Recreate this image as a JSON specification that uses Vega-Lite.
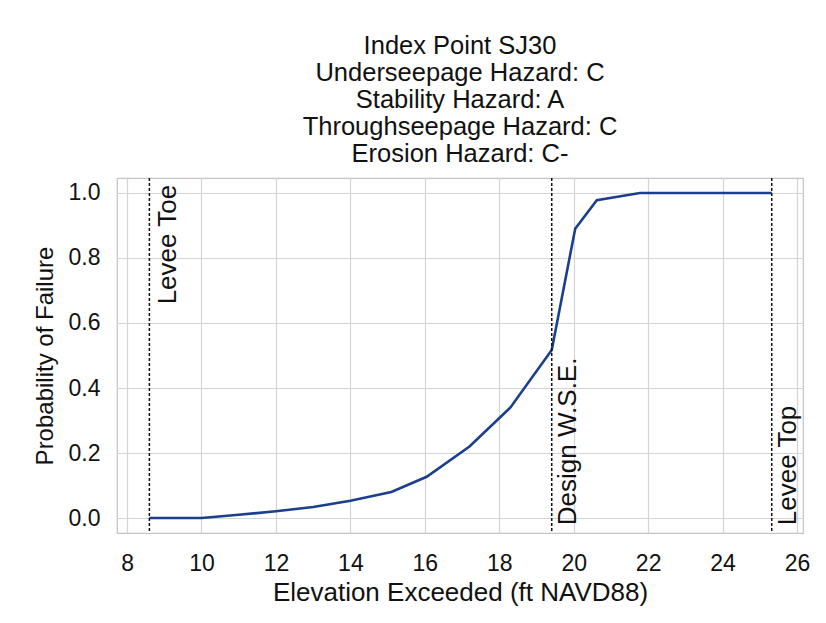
{
  "$schema": "https://vega.github.io/schema/vega-lite/v6.json",
  "width": 686,
  "height": 355,
  "autosize": {"type": "none"},
  "padding": {"left": 117, "top": 178, "right": 23, "bottom": 90},
  "background": "white",
  "title": {
    "text": ["Index Point SJ30", "Underseepage Hazard: C", "Stability Hazard: A", "Throughseepage Hazard: C", "Erosion Hazard: C-"],
    "fontSize": 25.5,
    "fontWeight": "normal",
    "font": "Liberation Sans",
    "color": "#111111",
    "lineHeight": 27,
    "anchor": "middle",
    "offset": 10
  },
  "datasets": {
    "curve": [
      {"elev": 8.6, "pf": 0.0},
      {"elev": 10.0, "pf": 0.0},
      {"elev": 11.0, "pf": 0.01},
      {"elev": 12.0, "pf": 0.021},
      {"elev": 13.0, "pf": 0.034},
      {"elev": 14.0, "pf": 0.053},
      {"elev": 15.1, "pf": 0.08},
      {"elev": 16.05, "pf": 0.127},
      {"elev": 17.2, "pf": 0.22},
      {"elev": 18.3, "pf": 0.34},
      {"elev": 19.41, "pf": 0.517},
      {"elev": 20.04, "pf": 0.89},
      {"elev": 20.62, "pf": 0.978},
      {"elev": 21.78, "pf": 1.0},
      {"elev": 25.32, "pf": 1.0}
    ],
    "markers": [
      {"elev": 8.6, "label": "Levee Toe", "end": "top"},
      {"elev": 19.41, "label": "Design W.S.E.", "end": "bottom"},
      {"elev": 25.32, "label": "Levee Top", "end": "bottom"}
    ]
  },
  "layer": [
    {
      "data": {"name": "curve"},
      "mark": {"type": "line", "color": "#1b3f8c", "strokeWidth": 2.6, "clip": true},
      "encoding": {
        "x": {
          "field": "elev", "type": "quantitative",
          "scale": {"domain": [7.73, 26.16], "nice": false, "zero": false},
          "axis": {
            "title": "Elevation Exceeded (ft NAVD88)",
            "values": [8, 10, 12, 14, 16, 18, 20, 22, 24, 26],
            "format": "d"
          }
        },
        "y": {
          "field": "pf", "type": "quantitative",
          "scale": {"domain": [-0.046, 1.046], "nice": false, "zero": false},
          "axis": {
            "title": "Probability of Failure",
            "values": [0, 0.2, 0.4, 0.6, 0.8, 1.0],
            "format": ".1f"
          }
        }
      }
    },
    {
      "data": {"name": "markers"},
      "mark": {"type": "rule", "color": "#111111", "strokeWidth": 1.5, "strokeDash": [3, 2]},
      "encoding": {
        "x": {"field": "elev", "type": "quantitative"}
      }
    },
    {
      "data": {"name": "markers"},
      "transform": [{"filter": "datum.end === 'top'"}],
      "mark": {"type": "text", "angle": 270, "align": "right", "baseline": "top", "fontSize": 26, "font": "Liberation Sans", "color": "#111111", "dy": 6},
      "encoding": {
        "x": {"field": "elev", "type": "quantitative"},
        "y": {"datum": 1.025},
        "text": {"field": "label"}
      }
    },
    {
      "data": {"name": "markers"},
      "transform": [{"filter": "datum.end === 'bottom'"}],
      "mark": {"type": "text", "angle": 270, "align": "left", "baseline": "top", "fontSize": 26, "font": "Liberation Sans", "color": "#111111", "dy": 3},
      "encoding": {
        "x": {"field": "elev", "type": "quantitative"},
        "y": {"datum": -0.022},
        "text": {"field": "label"}
      }
    }
  ],
  "config": {
    "font": "Liberation Sans",
    "view": {"stroke": "#c4c4c4", "strokeWidth": 1.2},
    "axis": {
      "domain": false,
      "ticks": false,
      "grid": true,
      "gridColor": "#d4d4d4",
      "gridWidth": 1.2,
      "labelFont": "Liberation Sans",
      "labelFontSize": 23,
      "labelColor": "#111111",
      "titleFont": "Liberation Sans",
      "titleFontWeight": "normal",
      "titleColor": "#111111"
    },
    "axisX": {"labelPadding": 19, "titlePadding": 4, "titleFontSize": 26, "labelFlush": false},
    "axisY": {"labelPadding": 17, "titlePadding": 11, "titleFontSize": 24}
  }
}
